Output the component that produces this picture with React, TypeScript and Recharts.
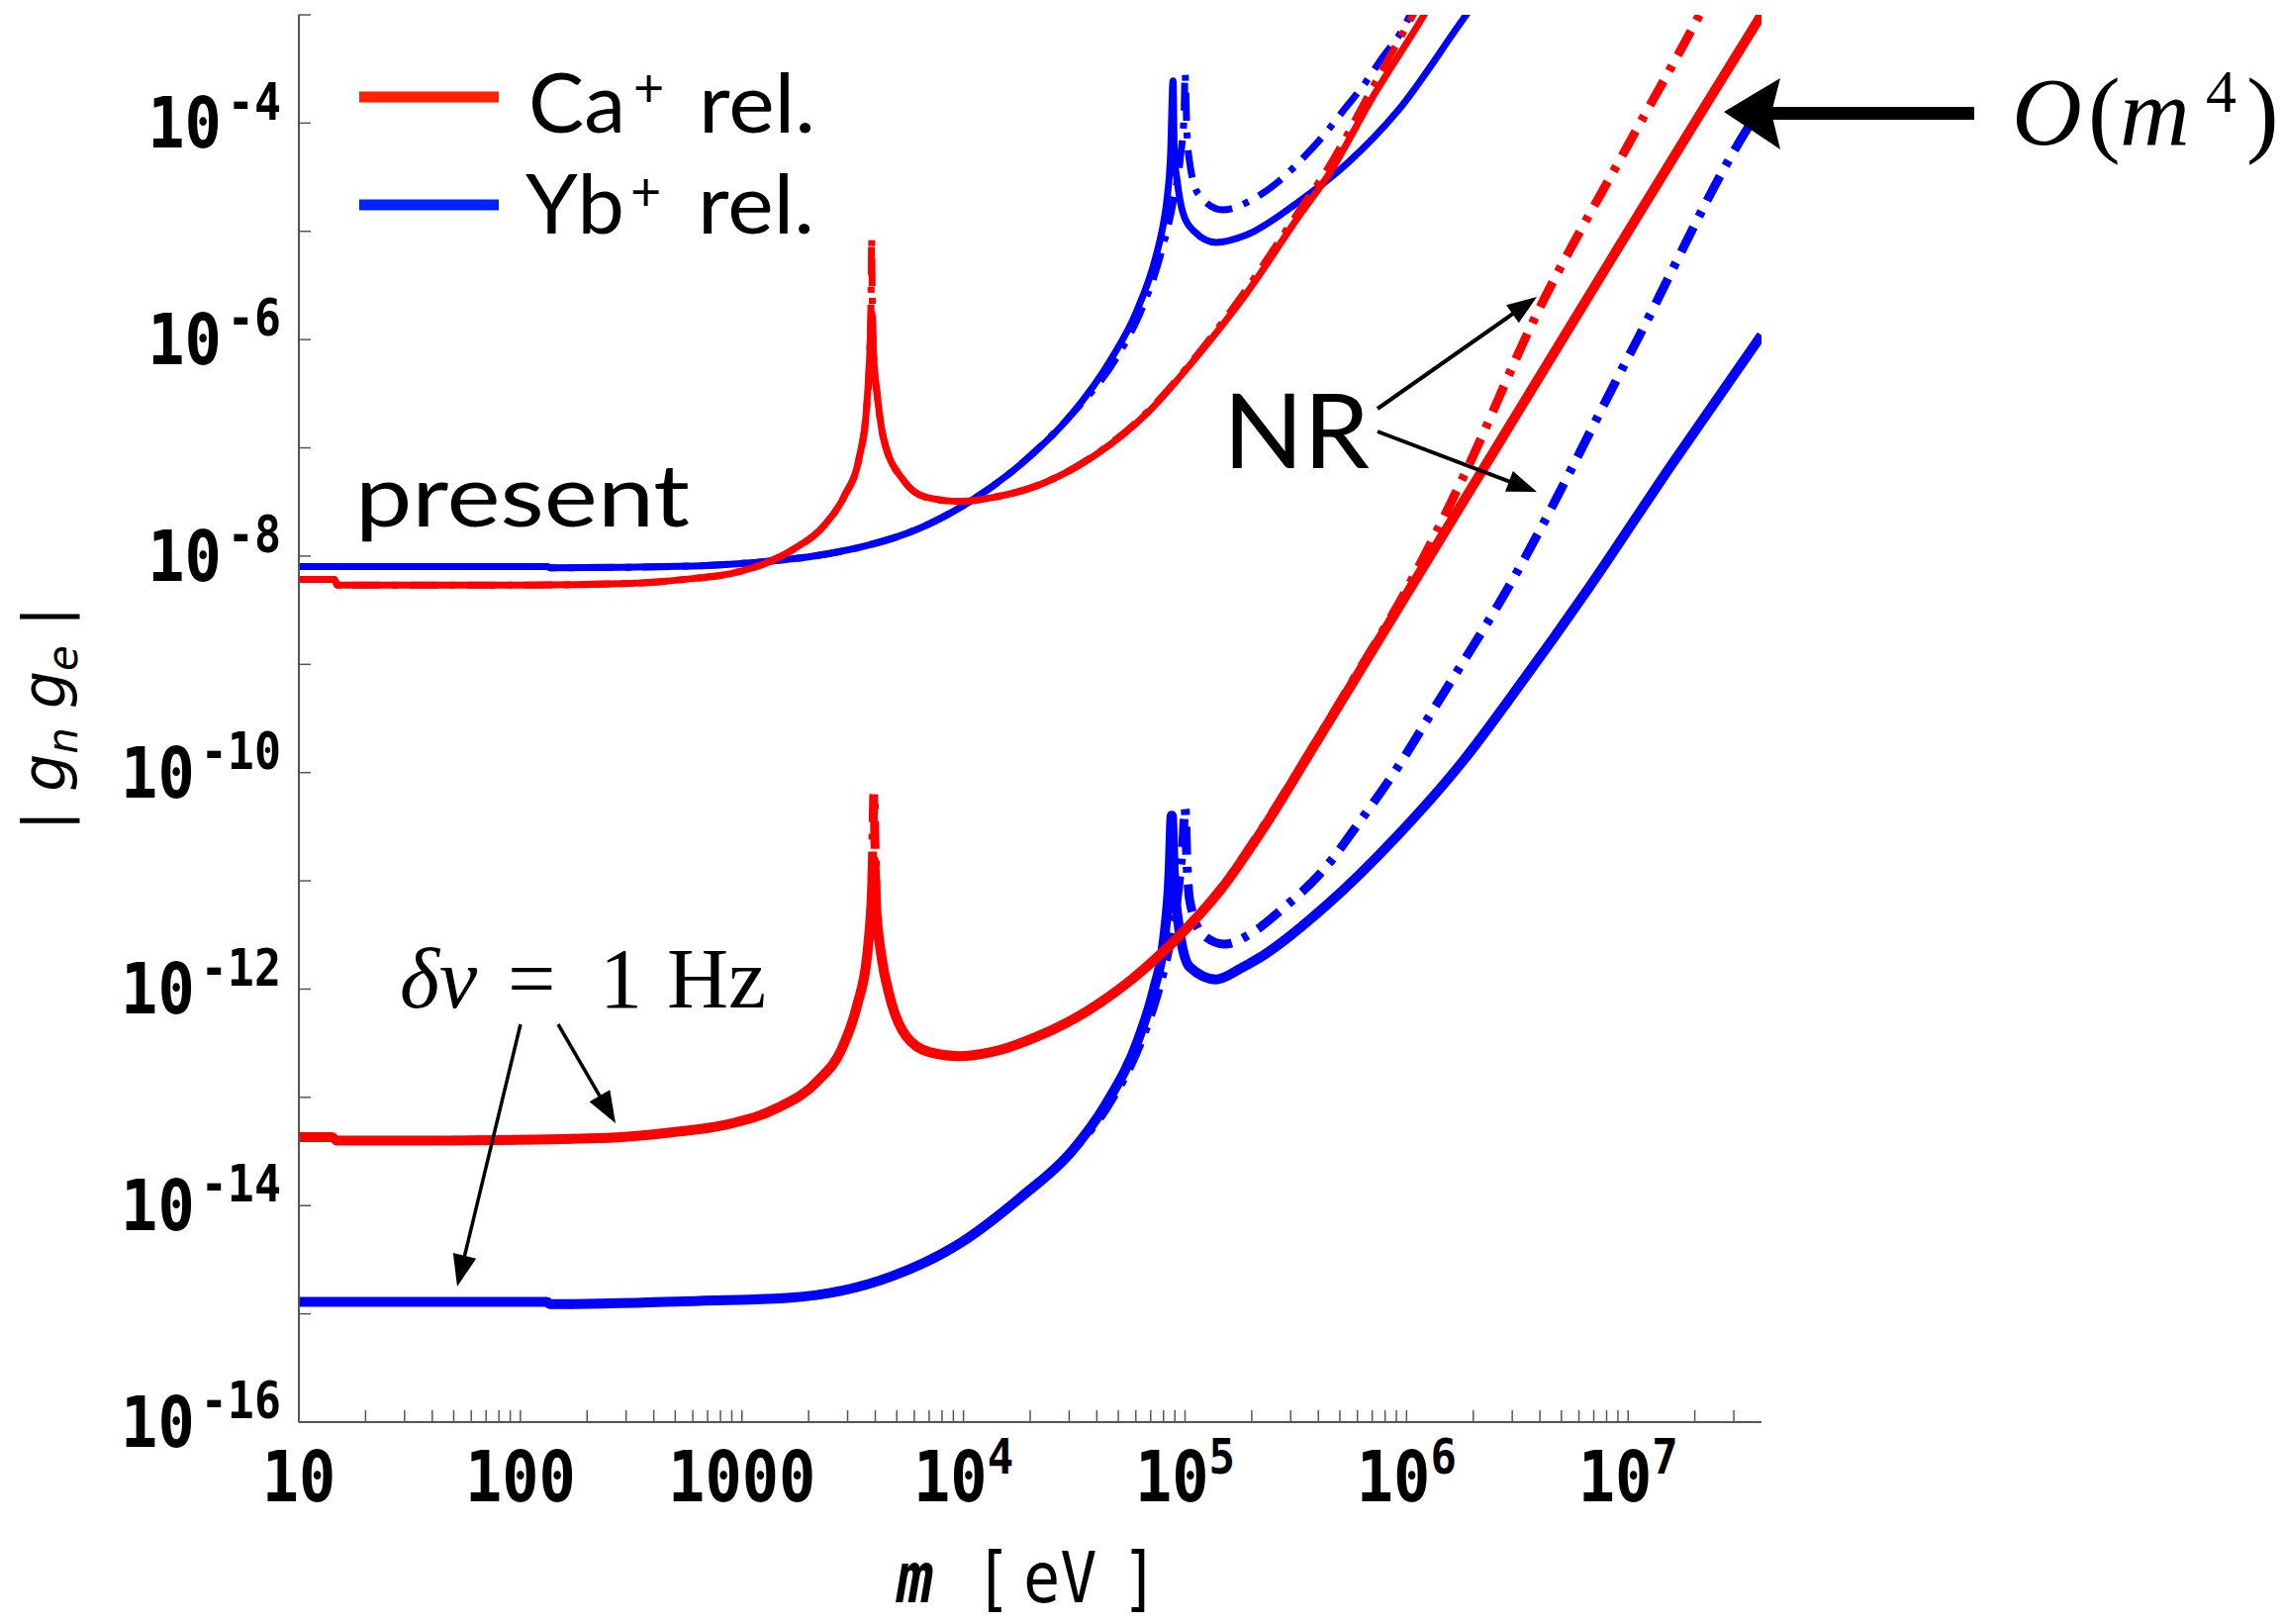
import React from "react";
import { LineChart, Line, XAxis, YAxis } from "recharts";

const W = 2307;
const H = 1641;
const PLOT = { left: 302, top: 15, right: 1780, bottom: 1437 };

const RED = "#ff0000";
const BLUE = "#0000ff";
const DASH_DOT = "28 12 6 12";
const AXIS = "#555";
const MONO = "'DejaVu Sans Mono', monospace";
const SANS = "Lato, 'Open Sans', sans-serif";
const SERIF = "'Liberation Serif', 'DejaVu Serif', serif";

type Pt = { m: number; g: number };
const pts = (rows: number[][]): Pt[] => rows.map(([m, g]) => ({ m, g }));

// ---- "present" bounds ----
const caRelPresent = pts([
  [10, 6.1e-9], [14.5, 6.1e-9], [14.9, 5.4e-9], [100, 5.4e-9], [316, 5.6e-9], [600, 6.2e-9],
  [891, 6.9e-9], [1259, 8.5e-9], [1700, 1.15e-8], [2340, 1.9e-8], [2880, 3.5e-8], [3390, 8.3e-8],
  [3630, 2.0e-7], [3760, 6.0e-7], [3850, 1.8e-6], [3940, 6.3e-7], [4070, 3.2e-7], [4365, 1.2e-7],
  [5370, 5.0e-8], [6760, 3.5e-8], [9550, 3.2e-8], [1.38e4, 3.5e-8], [2.34e4, 4.8e-8], [3.98e4, 8.7e-8],
  [6.76e4, 2.1e-7], [1.12e5, 6.8e-7], [1.9e5, 2.7e-6], [3.24e5, 1.35e-5], [4.47e5, 3.4e-5],
  [7.08e5, 1.78e-4], [1.2e6, 1e-3], [1.5e6, 2.2e-3],
]);
const caNRPresent = pts([
  [10, 6.1e-9], [14.5, 6.1e-9], [14.9, 5.4e-9], [100, 5.4e-9], [316, 5.6e-9], [600, 6.2e-9],
  [891, 6.9e-9], [1259, 8.5e-9], [1700, 1.15e-8], [2340, 1.9e-8], [2880, 3.5e-8], [3390, 8.3e-8],
  [3630, 2.0e-7], [3760, 6.0e-7], [3830, 3.0e-6], [3850, 8.7e-6], [3870, 3.0e-6], [3940, 6.3e-7],
  [4070, 3.2e-7], [4365, 1.2e-7], [5370, 5.0e-8], [6760, 3.5e-8], [9550, 3.2e-8], [1.38e4, 3.5e-8],
  [2.34e4, 4.8e-8], [3.98e4, 8.8e-8], [6.76e4, 2.15e-7], [1.12e5, 7.0e-7], [1.9e5, 2.95e-6],
  [3.24e5, 1.5e-5], [4.47e5, 4.0e-5], [7.08e5, 2.2e-4], [1.15e6, 1.3e-3],
]);
const ybRelPresent = pts([
  [10, 8.0e-9], [132, 8.0e-9], [136, 7.8e-9], [600, 8.1e-9], [1120, 8.7e-9], [2240, 1.02e-8],
  [3720, 1.26e-8], [6310, 1.8e-8], [1.07e4, 3.2e-8], [1.82e4, 7.1e-8], [3.05e4, 2.0e-7],
  [4.68e4, 6.8e-7], [6.03e4, 1.8e-6], [7.41e4, 6.0e-6], [8.0e4, 1.2e-5], [8.3e4, 2.0e-5],
  [8.6e4, 5.0e-5], [8.83e4, 2.45e-4], [8.95e4, 5.0e-5], [9.2e4, 3.0e-5], [9.77e4, 1.5e-5],
  [1.1e5, 1.0e-5], [1.38e5, 7.9e-6], [1.9e5, 9.3e-6], [3.24e5, 1.86e-5], [5.5e5, 4.4e-5],
  [9.1e5, 1.29e-4], [1.86e6, 1e-3], [2.3e6, 1.8e-3],
]);
const ybNRPresent = pts([
  [10, 8.0e-9], [132, 8.0e-9], [136, 7.8e-9], [600, 8.1e-9], [1120, 8.7e-9], [2240, 1.02e-8],
  [3720, 1.26e-8], [6310, 1.8e-8], [1.07e4, 3.2e-8], [1.82e4, 7.1e-8], [3.05e4, 2.0e-7],
  [4.9e4, 6.8e-7], [6.3e4, 1.8e-6], [7.8e4, 6.3e-6], [8.9e4, 2.0e-5], [9.55e4, 5.0e-5],
  [9.9e4, 1.2e-4], [1.0e5, 2.9e-4], [1.02e5, 8.3e-5], [1.05e5, 4.3e-5], [1.15e5, 2.2e-5],
  [1.48e5, 1.58e-5], [2.04e5, 2.0e-5], [2.75e5, 3.1e-5], [3.39e5, 4.7e-5], [4.27e5, 7.9e-5],
  [5.25e5, 1.35e-4], [6.46e5, 2.3e-4], [7.76e5, 4.0e-4], [9.55e5, 7.2e-4], [1.12e6, 1.4e-3],
]);

// ---- delta nu = 1 Hz projections ----
const caRel1Hz = pts([
  [10, 4.3e-14], [14.1, 4.3e-14], [14.8, 4.0e-14], [46.8, 4.0e-14], [229, 4.2e-14], [501, 4.8e-14],
  [851, 5.6e-14], [1430, 7.9e-14], [2190, 1.41e-13], [2820, 2.8e-13], [3310, 7.1e-13],
  [3670, 2.0e-12], [3820, 5.0e-12], [3940, 1.55e-11], [4050, 5.0e-12], [4220, 2.3e-12],
  [4680, 8.1e-13], [5500, 3.7e-13], [7080, 2.6e-13], [9550, 2.4e-13], [1.32e4, 2.6e-13],
  [2.19e4, 3.7e-13], [3.63e4, 6.3e-13], [5.75e4, 1.23e-12], [9.12e4, 2.9e-12], [1.45e5, 8.3e-12],
  [2.29e5, 3.2e-11], [3.63e5, 1.48e-10], [5.75e5, 6.9e-10], [9.77e5, 4.1e-9], [2.95e6, 1.66e-7],
  [7.5e6, 3.8e-6], [1.9e7, 8.5e-5], [4e7, 1e-3],
]);
const caNR1Hz = pts([
  [10, 4.3e-14], [14.1, 4.3e-14], [14.8, 4.0e-14], [46.8, 4.0e-14], [229, 4.2e-14], [501, 4.8e-14],
  [851, 5.6e-14], [1430, 7.9e-14], [2190, 1.41e-13], [2820, 2.8e-13], [3310, 7.1e-13],
  [3670, 2.0e-12], [3820, 5.0e-12], [3900, 2.5e-11], [3940, 6.5e-11], [3980, 2.5e-11],
  [4050, 5.0e-12], [4220, 2.3e-12], [4680, 8.1e-13], [5500, 3.7e-13], [7080, 2.6e-13],
  [9550, 2.4e-13], [1.32e4, 2.6e-13], [2.19e4, 3.7e-13], [3.63e4, 6.3e-13], [5.75e4, 1.23e-12],
  [9.12e4, 2.9e-12], [1.45e5, 8.4e-12], [2.29e5, 3.3e-11], [3.63e5, 1.5e-10], [5.75e5, 7.2e-10],
  [9.77e5, 4.5e-9], [1.82e6, 5.6e-8], [3.8e6, 1.6e-6], [1e7, 6.3e-5], [2.1e7, 1e-3], [2.5e7, 2e-3],
]);
const ybRel1Hz = pts([
  [10, 1.29e-15], [132, 1.29e-15], [136, 1.23e-15], [646, 1.32e-15], [1660, 1.41e-15],
  [4680, 2.2e-15], [9330, 4.3e-15], [1.82e4, 1.2e-14], [3.09e4, 3.2e-14], [4.37e4, 8.5e-14],
  [6.17e4, 3.5e-13], [7.24e4, 1e-12], [8.04e4, 2.9e-12], [8.51e4, 1.17e-11], [8.71e4, 4.0e-11],
  [8.9e4, 1.2e-11], [9.44e4, 3.5e-12], [1.05e5, 1.6e-12], [1.38e5, 1.23e-12], [1.78e5, 1.55e-12],
  [2.29e5, 2.09e-12], [4.37e5, 6.0e-12], [9.12e5, 2.63e-11], [1.82e6, 1.32e-10], [3.16e6, 6.0e-10],
  [6.61e6, 5.0e-9], [1.58e7, 7.1e-8], [4e7, 1.1e-6],
]);
const ybNR1Hz = pts([
  [10, 1.29e-15], [132, 1.29e-15], [136, 1.23e-15], [646, 1.32e-15], [1660, 1.41e-15],
  [4680, 2.2e-15], [9330, 4.3e-15], [1.82e4, 1.2e-14], [3.09e4, 3.2e-14], [4.5e4, 8.5e-14],
  [6.4e4, 3.5e-13], [7.6e4, 1e-12], [8.6e4, 2.9e-12], [9.3e4, 8e-12], [9.8e4, 2.5e-11],
  [1.0e5, 4.7e-11], [1.02e5, 1.5e-11], [1.05e5, 6.6e-12], [1.2e5, 3.2e-12], [1.51e5, 2.6e-12],
  [2.0e5, 3.3e-12], [2.75e5, 5.5e-12], [4.17e5, 1.23e-11], [6.31e5, 3.8e-11], [9.12e5, 1.12e-10],
  [1.32e6, 3.8e-10], [2.95e6, 5.6e-9], [1.05e7, 8.3e-7], [3.8e7, 1.2e-4], [4e7, 1.4e-4],
]);

// ---- axes ----
const X_DOMAIN: [number, number] = [10, 4e7];
const Y_DOMAIN: [number, number] = [1e-16, 1e-3];
const X_DECADES = [10, 100, 1000, 1e4, 1e5, 1e6, 1e7];
const X_MINOR_STEPS = [2, 3, 4, 5, 6, 7, 8, 9];
const X_TICKS = [...X_DECADES, ...X_DECADES.flatMap((d) => X_MINOR_STEPS.map((k) => k * d))].filter(
  (v) => v < 4e7
);
const X_LABEL_BASE = ["10", "100", "1000", "10", "10", "10", "10"];
const X_LABEL_EXP = ["", "", "", "4", "5", "6", "7"];
const Y_TICKS = [1e-16, 1e-15, 1e-14, 1e-13, 1e-12, 1e-11, 1e-10, 1e-9, 1e-8, 1e-7, 1e-6, 1e-5, 1e-4, 1e-3];
const Y_LABEL_EXP = [-16, -14, -12, -10, -8, -6, -4];

const TICK_LEN = 12;
const STRETCH = 1.15;

function BottomTick(props: any) {
  const { x, payload } = props;
  const i = X_DECADES.indexOf(payload.value);
  return (
    <g>
      <line x1={x} x2={x} y1={PLOT.bottom} y2={PLOT.bottom - TICK_LEN} stroke={AXIS} strokeWidth={1.5} />
      {i >= 0 && (
        <g transform={`translate(${x},1517) scale(1,${STRETCH})`}>
          <text textAnchor="middle" fontFamily={MONO} fontWeight="bold" fontSize={62} fill="#000">
            {X_LABEL_BASE[i]}
            {X_LABEL_EXP[i] && (
              <tspan fontSize={44} dy={-24}>
                {X_LABEL_EXP[i]}
              </tspan>
            )}
          </text>
        </g>
      )}
    </g>
  );
}

function TopTick(props: any) {
  const { x } = props;
  return <line x1={x} x2={x} y1={PLOT.top} y2={PLOT.top + TICK_LEN} stroke={AXIS} strokeWidth={1.5} />;
}

function LeftTick(props: any) {
  const { y, payload } = props;
  const e = Math.round(Math.log10(payload.value));
  const labelled = Y_LABEL_EXP.includes(e);
  return (
    <g>
      <line x1={PLOT.left} x2={PLOT.left + TICK_LEN} y1={y} y2={y} stroke={AXIS} strokeWidth={1.5} />
      {labelled && (
        <g transform={`translate(284,${y + 25}) scale(1,${STRETCH})`}>
          <text textAnchor="end" fontFamily={MONO} fontWeight="bold" fontSize={62} fill="#000">
            10
            <tspan fontSize={45} dy={-25} dx={6}>
              {String(e)}
            </tspan>
          </text>
        </g>
      )}
    </g>
  );
}

function RightTick(props: any) {
  const { y } = props;
  return <line x1={PLOT.right} x2={PLOT.right - TICK_LEN} y1={y} y2={y} stroke={AXIS} strokeWidth={1.5} />;
}

function Arrow({ x1, y1, x2, y2, w = 3.5, head = 30, half = 11 }: any) {
  const dx = x2 - x1;
  const dy = y2 - y1;
  const len = Math.hypot(dx, dy);
  const ux = dx / len;
  const uy = dy / len;
  const bx = x2 - ux * head;
  const by = y2 - uy * head;
  const p1 = `${bx - uy * half},${by + ux * half}`;
  const p2 = `${bx + uy * half},${by - ux * half}`;
  return (
    <g>
      <line x1={x1} y1={y1} x2={bx + ux * 4} y2={by + uy * 4} stroke="#000" strokeWidth={w} />
      <polygon points={`${x2},${y2} ${p1} ${p2}`} fill="#000" />
    </g>
  );
}

function Annotations() {
  return (
    <svg width={W} height={H} style={{ position: "absolute", left: 0, top: 0, pointerEvents: "none" }}>
      {/* legend */}
      <line x1={363} x2={504} y1={98} y2={98} stroke="#ff2200" strokeWidth={11} />
      <line x1={363} x2={504} y1={207} y2={207} stroke="#0022ff" strokeWidth={11} />
      <text x={534} y={134} fontFamily={SANS} fontSize={84} textLength={98} lengthAdjust="spacingAndGlyphs" fill="#000">Ca</text>
      <text x={640} y={108} fontFamily={SANS} fontSize={54} fill="#000">+</text>
      <text x={706} y={134} fontFamily={SANS} fontSize={84} textLength={118} lengthAdjust="spacingAndGlyphs" fill="#000">rel.</text>
      <text x={531} y={236} fontFamily={SANS} fontSize={84} textLength={100} lengthAdjust="spacingAndGlyphs" fill="#000">Yb</text>
      <text x={637} y={213} fontFamily={SANS} fontSize={54} fill="#000">+</text>
      <text x={705} y={236} fontFamily={SANS} fontSize={84} textLength={118} lengthAdjust="spacingAndGlyphs" fill="#000">rel.</text>

      <text x={359} y={532} fontFamily={SANS} fontSize={88} textLength={338} lengthAdjust="spacingAndGlyphs" fill="#000">
        present
      </text>

      <text x={1236} y={473} fontFamily={SANS} fontSize={104} textLength={148} lengthAdjust="spacingAndGlyphs" fill="#000">
        NR
      </text>
      <Arrow x1={1392} y1={413} x2={1553} y2={300} w={4} head={30} half={11} />
      <Arrow x1={1392} y1={436} x2={1553} y2={497} w={4} head={30} half={11} />

      {/* delta nu = 1 Hz */}
      <text x={404} y={1018} fontFamily={SERIF} fontStyle="italic" fontSize={86} fill="#000">
        δν
      </text>
      <text x={513} y={1018} fontFamily={SERIF} fontSize={86} fill="#000">
        =
      </text>
      <text x={606} y={1018} fontFamily={SERIF} fontSize={86} fill="#000">
        1
      </text>
      <text x={674} y={1018} fontFamily={SERIF} fontSize={86} fill="#000">
        Hz
      </text>
      <Arrow x1={526} y1={1035} x2={462} y2={1300} w={3.5} head={32} half={12} />
      <Arrow x1={564} y1={1035} x2={622} y2={1135} w={3.5} head={32} half={12} />

      {/* O(m^4) */}
      <rect x={1790} y={108} width={205} height={13} fill="#000" />
      <polygon points="1742,113 1799,79 1790,114 1799,151" fill="#000" />
      <text x={2033} y={146} fontFamily={SERIF} fontStyle="italic" fontSize={98} fill="#000">
        O
      </text>
      <text x={2110} y={146} fontFamily={SERIF} fontSize={98} fill="#000">
        (
      </text>
      <text x={2142} y={146} fontFamily={SERIF} fontStyle="italic" fontSize={98} fill="#000">
        m
      </text>
      <text x={2229} y={113} fontFamily={SERIF} fontSize={62} fill="#000">
        4
      </text>
      <text x={2270} y={146} fontFamily={SERIF} fontSize={98} fill="#000">
        )
      </text>

      {/* axis titles */}
      <g transform={`translate(0,1619) scale(1,${STRETCH})`}>
        <text x={906} y={0} fontFamily={MONO} fontStyle="italic" fontWeight="bold" fontSize={62} fill="#000">
          m
        </text>
        <text x={985} y={0} fontFamily={MONO} fontSize={62} fill="#000">
          [
        </text>
        <text x={1034} y={0} fontFamily={MONO} fontSize={62} fill="#000">
          eV
        </text>
        <text x={1133} y={0} fontFamily={MONO} fontSize={62} fill="#000">
          ]
        </text>
      </g>
      <g transform="translate(66,726) rotate(-90)">
        <text x={0} y={0} textAnchor="middle" fontFamily="'DejaVu Sans', sans-serif" fontSize={60} fill="#000">
          |{" "}
          <tspan fontStyle="italic">g</tspan>
          <tspan fontStyle="italic" fontSize={42} dy={12}>n</tspan>
          <tspan dy={-12}> </tspan>
          <tspan fontStyle="italic">g</tspan>
          <tspan fontStyle="italic" fontSize={42} dy={12}>e</tspan>
          <tspan dy={-12}> |</tspan>
        </text>
      </g>
    </svg>
  );
}

const lineProps = { dataKey: "g", dot: false, isAnimationActive: false, type: "monotoneX" as const };

export default function App() {
  return (
    <div style={{ position: "absolute", left: 0, top: 0, width: W, height: H, background: "#fff" }}>
      <LineChart width={W} height={H} margin={{ top: PLOT.top, right: W - PLOT.right, bottom: 0, left: 0 }}>
        <XAxis
          dataKey="m"
          type="number"
          scale="log"
          domain={X_DOMAIN}
          allowDataOverflow
          ticks={X_TICKS}
          interval={0}
          height={H - PLOT.bottom}
          tick={BottomTick}
          tickLine={false}
          axisLine={{ stroke: AXIS, strokeWidth: 2 }}
        />
        <XAxis
          xAxisId="top"
          orientation="top"
          dataKey="m"
          type="number"
          scale="log"
          domain={X_DOMAIN}
          allowDataOverflow
          ticks={X_TICKS}
          interval={0}
          height={0}
          tick={TopTick}
          tickLine={false}
          axisLine={{ stroke: AXIS, strokeWidth: 2 }}
        />
        <YAxis
          type="number"
          scale="log"
          domain={Y_DOMAIN}
          allowDataOverflow
          ticks={Y_TICKS}
          interval={0}
          width={PLOT.left}
          tick={LeftTick}
          tickLine={false}
          axisLine={{ stroke: AXIS, strokeWidth: 2 }}
        />
        <YAxis
          yAxisId="right"
          orientation="right"
          type="number"
          scale="log"
          domain={Y_DOMAIN}
          allowDataOverflow
          ticks={Y_TICKS}
          interval={0}
          width={0}
          tick={RightTick}
          tickLine={false}
          axisLine={{ stroke: AXIS, strokeWidth: 2 }}
        />

        <Line {...lineProps} data={ybNRPresent} stroke={BLUE} strokeWidth={7} strokeDasharray={DASH_DOT} />
        <Line {...lineProps} data={ybRelPresent} stroke={BLUE} strokeWidth={7} />
        <Line {...lineProps} data={caNRPresent} stroke={RED} strokeWidth={7} strokeDasharray={DASH_DOT} />
        <Line {...lineProps} data={caRelPresent} stroke={RED} strokeWidth={7} />

        <Line {...lineProps} data={ybNR1Hz} stroke={BLUE} strokeWidth={9} strokeDasharray={DASH_DOT} />
        <Line {...lineProps} data={ybRel1Hz} stroke={BLUE} strokeWidth={10} />
        <Line {...lineProps} data={caNR1Hz} stroke={RED} strokeWidth={9} strokeDasharray={DASH_DOT} />
        <Line {...lineProps} data={caRel1Hz} stroke={RED} strokeWidth={10} />
      </LineChart>
      <Annotations />
    </div>
  );
}
